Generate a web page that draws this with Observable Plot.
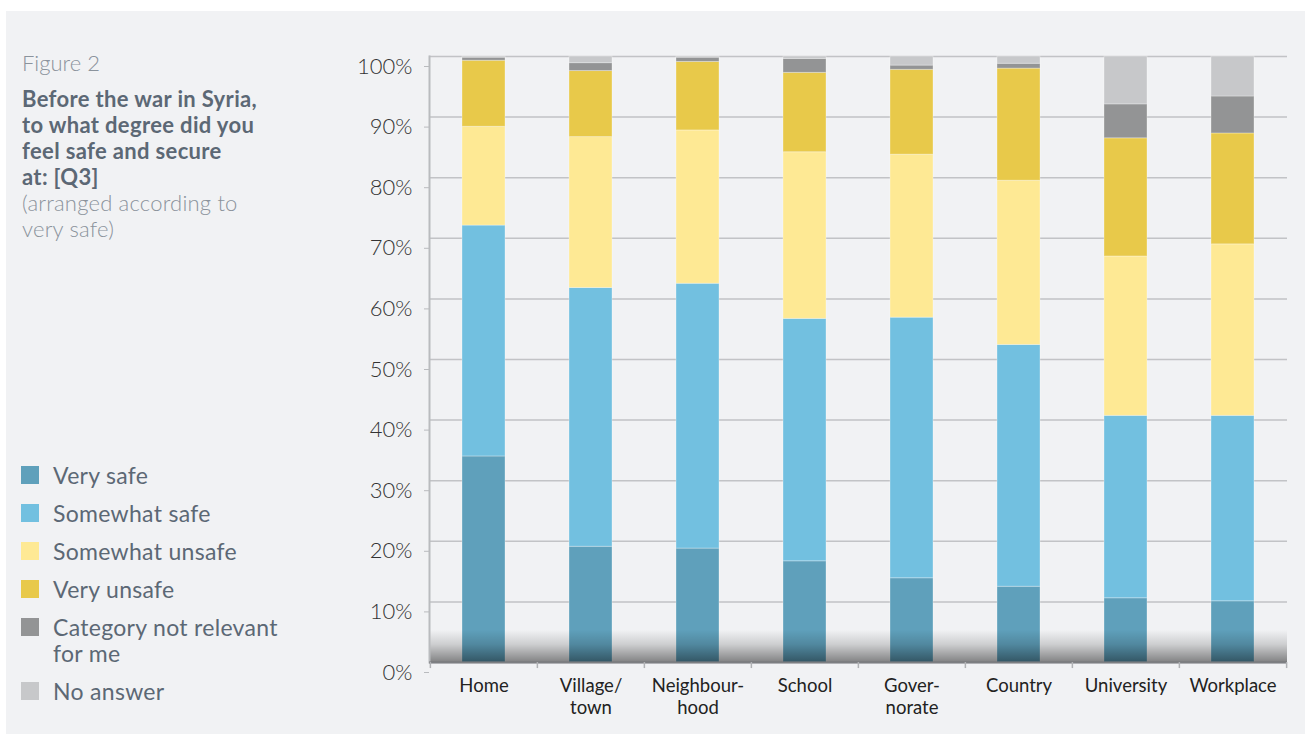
<!DOCTYPE html>
<html>
<head>
<meta charset="utf-8">
<script src="https://cdn.jsdelivr.net/npm/d3@7"></script>
<script src="https://cdn.jsdelivr.net/npm/@observablehq/plot@0.6"></script>
<style>
  html, body { margin: 0; padding: 0; background: #ffffff; }
  body { width: 1305px; height: 734px; position: relative; overflow: hidden; font-family: Lato, "Noto Sans", sans-serif; }
  #panel { position: absolute; left: 6px; top: 11px; width: 1299px; height: 723px; background: #f1f2f4; }
  #titleblock { position: absolute; left: 22px; top: 50px; width: 300px; }
  #fig { font-size: 22px; line-height: 26px; font-weight: 300; color: #8b939c; }
  #title { margin-top: 10px; font-size: 22px; line-height: 26px; font-weight: 700; color: #5c6875; letter-spacing: 0.35px; }
  #subtitle { font-size: 22px; line-height: 26px; font-weight: 300; color: #8b939c; letter-spacing: 0.2px; }
  #legend { position: absolute; left: 21px; top: 462px; display: flex; flex-direction: column; gap: 12px; }
  .item { display: flex; align-items: flex-start; }
  .sw { width: 18px; height: 18px; margin-top: 4px; margin-right: 14px; flex: none; }
  .lab { font-size: 23px; line-height: 26px; color: #5c6875; white-space: pre-line; letter-spacing: 0.3px; }
  #chart { position: absolute; left: 330px; top: 30px; }
</style>
</head>
<body>
<div id="panel"></div>
<div id="titleblock">
  <div id="fig">Figure 2</div>
  <div id="title">Before the war in Syria,<br>to what degree did you<br>feel safe and secure<br>at: [Q3]</div>
  <div id="subtitle">(arranged according to<br>very safe)</div>
</div>
<div id="legend"></div>
<div id="chart"></div>
<script>
const categories = ["Home", "Village/town", "Neighbourhood", "School", "Governorate", "Country", "University", "Workplace"];
const categoryLabels = ["Home", "Village/\ntown", "Neighbour-\nhood", "School", "Gover-\nnorate", "Country", "University", "Workplace"];
const series = ["Very safe", "Somewhat safe", "Somewhat unsafe", "Very unsafe", "Category not relevant for me", "No answer"];
const seriesLabels = ["Very safe", "Somewhat safe", "Somewhat unsafe", "Very unsafe", "Category not relevant\nfor me", "No answer"];
const colors = ["#5fa0bb", "#72c0e0", "#fee994", "#e8c94a", "#939495", "#c7c8ca"];

const verySafe        = [34.0, 19.1, 18.8, 16.7, 13.9, 12.5, 10.6, 10.1];
const somewhatSafe    = [38.1, 42.7, 43.7, 40.0, 43.0, 39.9, 30.1, 30.6];
const somewhatUnsafe  = [16.3, 24.9, 25.3, 27.5, 26.9, 27.1, 26.3, 28.3];
const veryUnsafe      = [10.9, 10.9, 11.3, 13.1, 14.0, 18.5, 19.5, 18.3];
const notRelevant     = [ 0.5,  1.3,  0.7,  2.3,  0.7,  0.8,  5.6,  6.1];
const noAnswer        = [ 0.2,  1.1,  0.2,  0.4,  1.5,  1.2,  7.9,  6.6];

const yTicks = [0, 10, 20, 30, 40, 50, 60, 70, 80, 90, 100];

const seriesValues = [verySafe, somewhatSafe, somewhatUnsafe, veryUnsafe, notRelevant, noAnswer];
const data = [];
categories.forEach((c, i) => {
  series.forEach((s, j) => data.push({place: c, series: s, value: seriesValues[j][i]}));
});
const labelOf = new Map(categories.map((c, i) => [c, categoryLabels[i]]));

// legend
const legend = document.getElementById("legend");
series.forEach((s, j) => {
  const item = document.createElement("div");
  item.className = "item";
  const sw = document.createElement("div");
  sw.className = "sw";
  sw.style.background = colors[j];
  const lab = document.createElement("div");
  lab.className = "lab";
  lab.textContent = seriesLabels[j];
  item.appendChild(sw); item.appendChild(lab);
  legend.appendChild(item);
});

const W = 970, H = 704, ML = 99, MR = 13, MT = 26, MB = 72;
const step = (W - ML - MR) / categories.length;

const chart = Plot.plot({
  width: W, height: H,
  marginLeft: ML, marginRight: MR, marginTop: MT, marginBottom: MB,
  style: {background: "transparent", fontFamily: "Lato, 'Noto Sans', sans-serif", overflow: "visible"},
  x: {domain: categories, paddingInner: 0.6, paddingOuter: 0.3, label: null},
  y: {domain: [0, 100], label: null},
  color: {domain: series, range: colors},
  marks: [
    Plot.gridY(yTicks, {stroke: "#9a9da1", strokeOpacity: 0.55, strokeWidth: 1.5}),
    Plot.barY(data, {x: "place", y: "value", fill: "series", order: null, stroke: "#ffffff", strokeOpacity: 0.3, strokeWidth: 1}),
    Plot.rect([0], {y1: 0, y2: 5.3, fill: "url(#bottomShade)"}),
    Plot.frame({anchor: "left", stroke: "#b9bbbe", strokeWidth: 2}),
    Plot.ruleY([0], {stroke: "#7d7f82", strokeWidth: 2}),
    Plot.ruleX(categories, {x: d => d, y1: 0, y2: -1, dx: -step / 2, stroke: "#b0b2b5", strokeWidth: 1.5}),
    Plot.ruleX(categories.slice(-1), {x: d => d, y1: 0, y2: -1, dx: step / 2, stroke: "#b0b2b5", strokeWidth: 1.5}),
    Plot.axisY(yTicks, {tickFormat: d => d + "%", tickSize: 5, tickPadding: 12, fontSize: 22, fontWeight: 300, fill: "#333", stroke: "#b9bbbe", dy: 10}),
    Plot.axisX({tickSize: 0, tickPadding: 13, fontSize: 18.5, fill: "#222", tickFormat: d => labelOf.get(d), lineHeight: 1.22})
  ]
});

// gradient definition for the bottom shading
const svg = d3.select(chart);
const defs = svg.insert("defs", ":first-child");
const grad = defs.append("linearGradient").attr("id", "bottomShade")
  .attr("x1", 0).attr("y1", 0).attr("x2", 0).attr("y2", 1);
grad.append("stop").attr("offset", "0%").attr("stop-color", "#000").attr("stop-opacity", 0);
grad.append("stop").attr("offset", "45%").attr("stop-color", "#000").attr("stop-opacity", 0.15);
grad.append("stop").attr("offset", "100%").attr("stop-color", "#000").attr("stop-opacity", 0.46);

document.getElementById("chart").appendChild(chart);
</script>
</body>
</html>
